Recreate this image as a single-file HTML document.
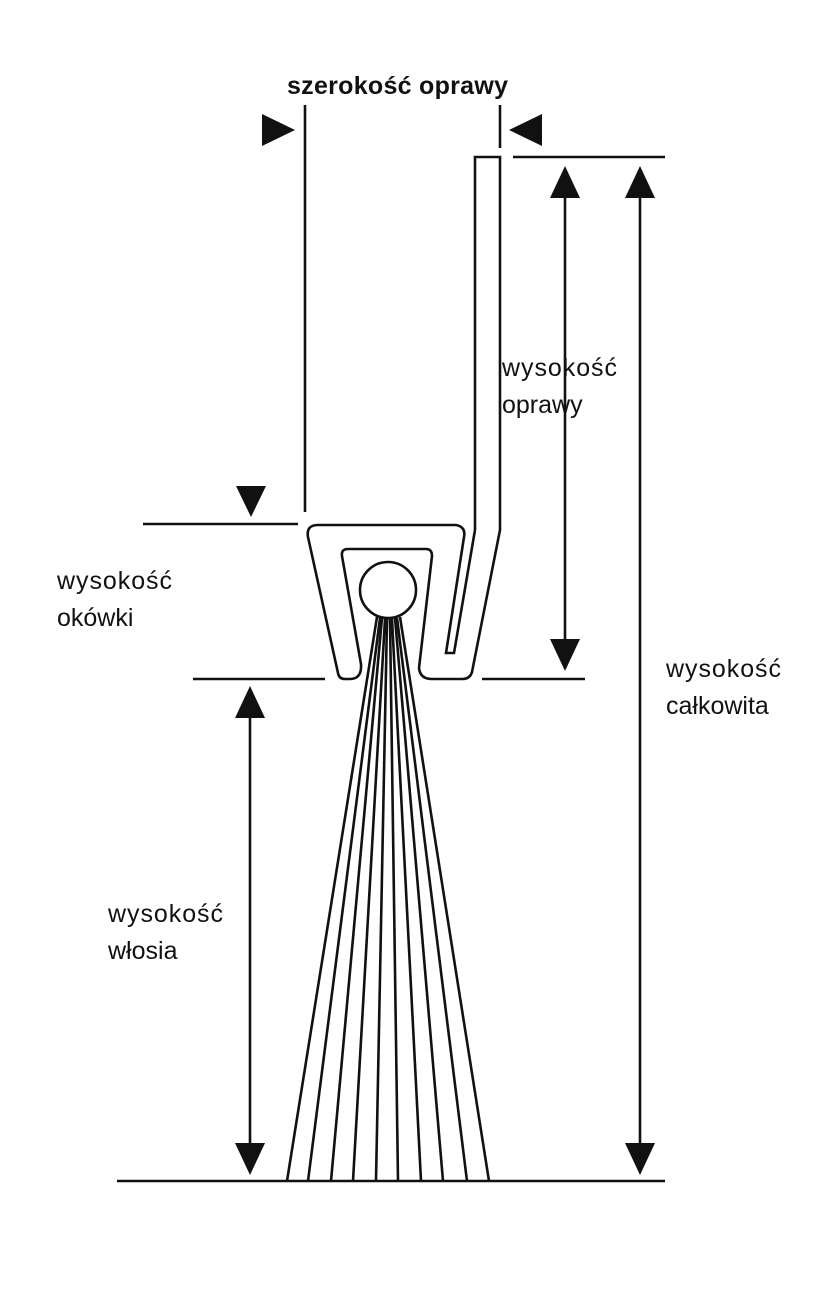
<!DOCTYPE html>
<html><head><style>body{margin:0;background:#fff}svg{display:block}</style></head><body>
<svg width="819" height="1291" viewBox="0 0 819 1291" xmlns="http://www.w3.org/2000/svg" font-family="'Liberation Sans',sans-serif">
<g stroke="#111" stroke-width="2.6" fill="none">
<line x1="305" y1="105" x2="305" y2="512"/>
<line x1="500" y1="105" x2="500" y2="148"/>
<path d="M475 530 L475 157 L500 157 L500 530 L472 672 Q470 679 462 679 L432 679 Q420 679 419 668 L432 556 Q432 549 426 549 L348 549 Q341 549 342 556 L361 664 Q362 679 350 679 L345 679 Q339 679 338 673 L308 537 Q306 525 318 525 L456 525 Q466 527 464 537 L446 653 L454 653 L475 530"/>
<circle cx="388" cy="590" r="28"/>
<line x1="513" y1="157" x2="665" y2="157"/>
<line x1="143" y1="524" x2="298" y2="524"/>
<line x1="193" y1="679" x2="325" y2="679"/>
<line x1="482" y1="679" x2="585" y2="679"/>
<line x1="117" y1="1181" x2="665" y2="1181"/>
<line x1="565" y1="195" x2="565" y2="640"/>
<line x1="640" y1="195" x2="640" y2="1145"/>
<line x1="250" y1="715" x2="250" y2="1145"/>
<line x1="377" y1="617" x2="287" y2="1181"/>
<line x1="380" y1="618" x2="308" y2="1181"/>
<line x1="382" y1="618" x2="331" y2="1181"/>
<line x1="385" y1="619" x2="353" y2="1181"/>
<line x1="387" y1="619" x2="376" y2="1181"/>
<line x1="390" y1="619" x2="398" y2="1181"/>
<line x1="392" y1="619" x2="421" y2="1181"/>
<line x1="395" y1="618" x2="443" y2="1181"/>
<line x1="397" y1="618" x2="467" y2="1181"/>
<line x1="400" y1="617" x2="489" y2="1181"/>
</g>
<g fill="#111">
<polygon points="262,114 295,130 262,146"/>
<polygon points="542,114 509,130 542,146"/>
<polygon points="565,166 550,198 580,198"/>
<polygon points="565,671 550,639 580,639"/>
<polygon points="640,166 625,198 655,198"/>
<polygon points="640,1175 625,1143 655,1143"/>
<polygon points="250,686 235,718 265,718"/>
<polygon points="250,1175 235,1143 265,1143"/>
<polygon points="236,486 266,486 251,517"/>
</g>
<g fill="#111" font-size="25">
<text x="287" y="94" font-weight="bold" font-size="25" textLength="221">szerokość oprawy</text>
<text x="502" y="376" textLength="115">wysokość</text>
<text x="502" y="413">oprawy</text>
<text x="57" y="589" textLength="115">wysokość</text>
<text x="57" y="626">okówki</text>
<text x="666" y="677" textLength="115">wysokość</text>
<text x="666" y="714">całkowita</text>
<text x="108" y="922" textLength="115">wysokość</text>
<text x="108" y="959">włosia</text>
</g>
</svg>
</body></html>
